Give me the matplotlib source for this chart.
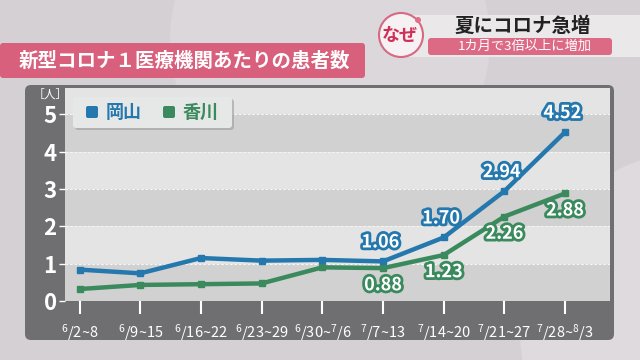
import matplotlib
matplotlib.use("Agg")
import matplotlib.pyplot as plt
import matplotlib.patheffects as pe
from matplotlib.patches import FancyBboxPatch, Circle, Rectangle
import numpy as np

plt.rcParams['font.family'] = ['Noto Sans CJK JP', 'DejaVu Sans']
plt.rcParams['mathtext.fontset'] = 'custom'
plt.rcParams['mathtext.rm'] = 'Noto Sans CJK JP'
plt.rcParams['mathtext.it'] = 'Noto Sans CJK JP'

# ---- data ----
week_labels = [r"$^6/$2~8", r"$^6/$9~15", r"$^6/$16~22", r"$^6/$23~29",
               r"$^6/$30~$^7/$6", r"$^7/$7~13", r"$^7/$14~20",
               r"$^7/$21~27", r"$^7/$28~$^8/$3"]
okayama = [0.84, 0.74, 1.15, 1.08, 1.10, 1.06, 1.70, 2.94, 4.52]
kagawa = [0.32, 0.43, 0.45, 0.47, 0.90, 0.88, 1.23, 2.26, 2.88]
okayama_labels = {5: "1.06", 6: "1.70", 7: "2.94", 8: "4.52"}
kagawa_labels = {5: "0.88", 6: "1.23", 7: "2.26", 8: "2.88"}
yticks = [0, 1, 2, 3, 4, 5]

title = "新型コロナ１医療機関あたりの患者数"
head = "夏にコロナ急増"
sub = "1カ月で3倍以上に増加"

BLUE = "#2478ad"
GREEN = "#3a8a5e"
PINK = "#d9607c"

W, H = 640, 360
fig = plt.figure(figsize=(6.4, 3.6), dpi=100)
fig.patch.set_facecolor("#d4d0d3")

def fx(px):
    return px / W

def fy(py):
    return 1 - py / H

# background soft shapes
bg = fig.add_axes([0, 0, 1, 1], zorder=-5)
bg.set_xlim(0, W); bg.set_ylim(H, 0); bg.axis("off")
bg.add_patch(Circle((330, 40), 160, facecolor="#dbd7da", edgecolor="none"))
bg.add_patch(Circle((700, 330), 180, facecolor="#dedadd", edgecolor="none"))

# dark panel
bg.add_patch(FancyBboxPatch((25, 85), 589, 255, boxstyle="round,pad=0,rounding_size=6",
                            facecolor="#6f6f71", edgecolor="none"))

# title bar
bg.add_patch(FancyBboxPatch((0, 43), 365, 35, boxstyle="round,pad=0,rounding_size=3",
                            facecolor=PINK, edgecolor="none"))
bg.text(184, 61, title, color="white", fontsize=14, fontweight="bold",
        ha="center", va="center")

# top-right header
bg.add_patch(Rectangle((400, 15), 240, 42, facecolor="#ebe8ea", edgecolor="none"))
bg.add_patch(FancyBboxPatch((428, 38), 184, 17, boxstyle="round,pad=0,rounding_size=3",
                            facecolor="#dc6a85", edgecolor="none"))
bg.text(523, 26, head, color="#222222", fontsize=14, fontweight="bold", ha="center", va="center")
bg.text(525, 46.5, sub, color="white", fontsize=9.5, ha="center", va="center")
bg.add_patch(Circle((401, 35), 22, facecolor="#f6f1f3", edgecolor="#d66a84", lw=1.5))
bg.add_patch(Circle((418, 20), 3, facecolor="#e0708a", edgecolor="none"))
bg.text(400, 35, "なぜ", color="#d02f56", fontsize=13, fontweight="bold", ha="center", va="center")

# unit label
bg.text(50, 94, "［人］", color="white", fontsize=8.5, ha="center", va="center")

# ---- main axes ----
ax = fig.add_axes([fx(65), fy(301), fx(610) - fx(65), fy(88) - fy(301)])
ax.set_xlim(-0.24, 8.74)
ax.set_ylim(0, 5.7)
ax.set_facecolor("#e4e4e4")
for lo in range(0, 5, 2):
    ax.axhspan(lo, lo + 1, color="#d1d1d1", zorder=0, lw=0)
ax.axhspan(4, 5, color="#d1d1d1", zorder=0, lw=0)
for y in yticks[1:]:
    ax.axhline(y, color="#f4f4f4", lw=0.8, ls=(0, (2.5, 1.5)), zorder=1)
for s in ax.spines.values():
    s.set_visible(False)

x = np.arange(len(week_labels))
ax.plot(x, okayama, color=BLUE, lw=3.2, marker="s", ms=4, zorder=4, solid_joinstyle="round")
ax.plot(x, kagawa, color=GREEN, lw=3.2, marker="s", ms=4, zorder=3, solid_joinstyle="round")

ax.set_xticks(x)
ax.set_xticklabels(week_labels, color="white", fontsize=10.5)
ax.set_yticks(yticks)
ax.set_yticklabels([str(v) for v in yticks], color="white", fontsize=16, fontweight="bold")
ax.tick_params(axis="x", length=9, width=1.5, color="white", pad=6, direction="out")
ax.tick_params(axis="y", length=4, width=1, color="white", pad=2, direction="out")

def outlined(col):
    return [pe.withStroke(linewidth=4, foreground=col)]

for i, t in okayama_labels.items():
    ax.annotate(t, (x[i], okayama[i]), xytext=(-2, 14), textcoords="offset points",
                ha="center", va="center", color="white", fontsize=13, fontweight="bold",
                path_effects=outlined(BLUE), zorder=6)
for i, t in kagawa_labels.items():
    ax.annotate(t, (x[i], kagawa[i]), xytext=(0, -12), textcoords="offset points",
                ha="center", va="center", color="white", fontsize=13, fontweight="bold",
                path_effects=outlined(GREEN), zorder=6)

# legend box
lg = fig.add_axes([0, 0, 1, 1], zorder=10)
lg.set_xlim(0, W); lg.set_ylim(H, 0); lg.axis("off")
lg.add_patch(FancyBboxPatch((75, 99), 159, 31, boxstyle="round,pad=0,rounding_size=3",
                            facecolor="#9c9c9c", edgecolor="none", alpha=0.6))
lg.add_patch(FancyBboxPatch((73, 97), 159, 31, boxstyle="round,pad=0,rounding_size=3",
                            facecolor="#e6e8e8", edgecolor="none"))
lg.add_patch(FancyBboxPatch((86, 106), 12, 12, boxstyle="round,pad=0,rounding_size=2",
                            facecolor=BLUE, edgecolor="none"))
lg.text(106, 112.5, "岡山", color=BLUE, fontsize=13, fontweight="bold", va="center", ha="left")
lg.add_patch(FancyBboxPatch((163, 106), 12, 12, boxstyle="round,pad=0,rounding_size=2",
                            facecolor=GREEN, edgecolor="none"))
lg.text(183, 112.5, "香川", color=GREEN, fontsize=13, fontweight="bold", va="center", ha="left")

fig.savefig("out.png", dpi=100, facecolor=fig.get_facecolor())
